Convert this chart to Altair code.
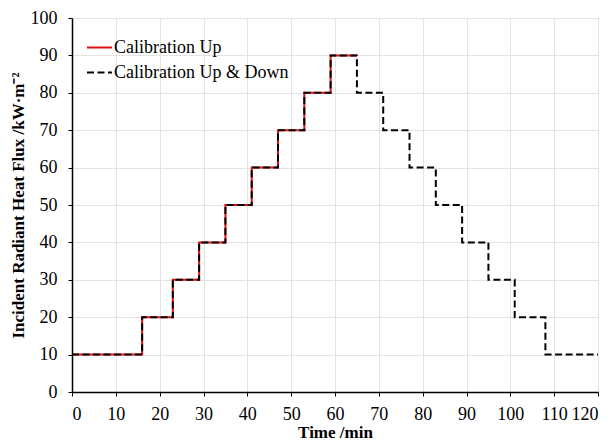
import altair as alt
import pandas as pd

up_time = [0, 16, 23, 29, 35, 41, 47, 53, 59, 65]
up_flux = [10, 20, 30, 40, 50, 60, 70, 80, 90, 90]
ud_time = [0, 16, 23, 29, 35, 41, 47, 53, 59, 65, 71, 77, 83, 89, 95, 101, 108, 120]
ud_flux = [10, 20, 30, 40, 50, 60, 70, 80, 90, 80, 70, 60, 50, 40, 30, 20, 10, 10]
series_names = ["Calibration Up", "Calibration Up & Down"]
x_ticks = list(range(0, 121, 10))
y_ticks = list(range(0, 101, 10))

df = pd.concat([
    pd.DataFrame({"t": up_time, "q": up_flux, "s": series_names[0]}),
    pd.DataFrame({"t": ud_time, "q": ud_flux, "s": series_names[1]}),
])

FONT = "Liberation Serif, Times New Roman, serif"

x = alt.X("t:Q", scale=alt.Scale(domain=[0, 120], nice=False),
          axis=alt.Axis(values=x_ticks, title="Time /min", labelFont=FONT, titleFont=FONT))
y = alt.Y("q:Q", scale=alt.Scale(domain=[0, 100], nice=False),
          axis=alt.Axis(values=y_ticks, title="Incident Radiant Heat Flux /kW·m⁻²",
                        labelFont=FONT, titleFont=FONT))
color = alt.Color("s:N", scale=alt.Scale(domain=series_names, range=["#e01010", "#000000"]),
                  legend=alt.Legend(title=None, orient="none", legendX=14, legendY=16,
                                    symbolType="stroke", symbolSize=625, symbolStrokeWidth=2,
                                    labelFont=FONT, labelFontSize=18, labelColor="black",
                                    labelOffset=1, rowPadding=2, padding=0, labelLimit=400))
dash = alt.StrokeDash("s:N", scale=alt.Scale(domain=series_names, range=[[1, 0], [7, 3.5]]),
                      legend=None)

base = alt.Chart(df)
l1 = base.transform_filter(alt.datum.s == series_names[0]).mark_line(
    interpolate="step-after", strokeWidth=2).encode(x=x, y=y, color=color, strokeDash=dash)
l2 = base.transform_filter(alt.datum.s == series_names[1]).mark_line(
    interpolate="step-after", strokeWidth=2).encode(x=x, y=y, color=color, strokeDash=dash)

chart = alt.layer(l1, l2).properties(
    width=526, height=374,
    autosize=alt.AutoSizeParams(type="none"),
    padding={"left": 64, "top": 10, "right": 7, "bottom": 52},
    background="white",
).configure_view(stroke="#595959", strokeWidth=1).configure_axis(
    labelFont=FONT, labelFontSize=18, labelColor="black",
    titleFont=FONT, titleFontSize=17, titleColor="black", titleFontWeight="bold",
    domainColor="black", domainWidth=1.5, tickColor="black", tickSize=4,
    gridColor="#e3e3e3", gridWidth=1,
).configure_axisX(labelPadding=9, titlePadding=1).configure_axisY(labelPadding=11, titlePadding=3)

chart.save("out.html", embed_options={"renderer": "svg", "actions": False})
